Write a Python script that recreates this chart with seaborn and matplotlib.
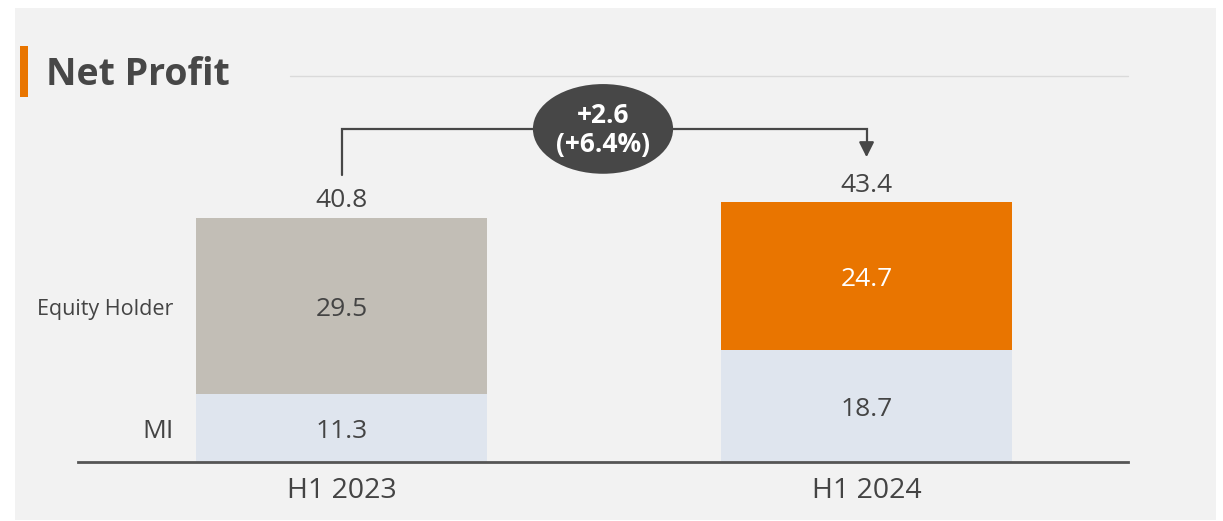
import matplotlib
matplotlib.use("Agg")
import matplotlib.pyplot as plt
import seaborn as sns
import pandas as pd
from matplotlib.patches import Ellipse, Rectangle

# datos del grafico
periods = ["H1 2023", "H1 2024"]
equity = [29.5, 24.7]
mi = [11.3, 18.7]
totals = [40.8, 43.4]
change_abs = "+2.6"
change_pct = "(+6.4%)"
row_labels = ["Equity Holder", "MI"]

GRAY_BAR = "#c2beb6"
ORANGE = "#e97500"
LIGHT = "#dfe5ee"
TEXT = "#444444"
BG = "#f2f2f2"

sns.set_style("white")
plt.rcParams["font.family"] = ["Open Sans", "DejaVu Sans"]

df = pd.DataFrame({"period": periods, "equity": equity, "mi": mi, "total": totals})

fig = plt.figure(figsize=(12.23, 5.21), dpi=100, facecolor="white")
fig.patches.append(Rectangle((15 / 1223, 1 / 521), 1201 / 1223, 512 / 521,
                             transform=fig.transFigure, facecolor=BG,
                             edgecolor="none", zorder=-10))

ax = fig.add_axes([78 / 1223, 59 / 521, 1050 / 1223, 454 / 521])
ax.set_facecolor("none")

# barras apiladas: total primero, MI encima
sns.barplot(data=df, x="period", y="total", hue="period",
            palette=[GRAY_BAR, ORANGE], saturation=1, width=0.554,
            legend=False, linewidth=0, ax=ax)
sns.barplot(data=df, x="period", y="mi", color=LIGHT, saturation=1,
            width=0.554, linewidth=0, ax=ax)

px = 5.98  # pixeles por unidad
ax.set_xlim(-0.502, 1.498)
ax.set_ylim(0, 454 / px)

for s in ["top", "right", "left"]:
    ax.spines[s].set_visible(False)
ax.spines["bottom"].set_color("#555555")
ax.spines["bottom"].set_linewidth(2)
ax.set_yticks([])
ax.set_xlabel("")
ax.set_ylabel("")
ax.tick_params(axis="x", length=0, labelsize=20.5, labelcolor=TEXT, pad=11)

# etiquetas
dy = -0.5  # ajuste vertical del texto
for i in range(len(periods)):
    ax.text(i, mi[i] / 2 + dy, f"{mi[i]:.1f}", ha="center", va="center",
            fontsize=19, color=TEXT)
    ax.text(i, mi[i] + equity[i] / 2 + dy, f"{equity[i]:.1f}", ha="center",
            va="center", fontsize=19, color=TEXT if i == 0 else "white")
    ax.text(i, totals[i] + 3.4 + dy, f"{totals[i]:.1f}", ha="center",
            va="center", fontsize=19, color=TEXT)

ax.text(-0.32, mi[0] + equity[0] / 2 + dy, row_labels[0], ha="right",
        va="center", fontsize=15.5, color=TEXT)
ax.text(-0.32, mi[0] / 2 + dy, row_labels[1], ha="right", va="center",
        fontsize=19, color=TEXT)

# corchete con flecha
top_y = max(totals) + 12.3
ax.plot([0, 0, 1, 1], [totals[0] + 7.2, top_y, top_y, max(totals) + 9.0],
        color="#474747", lw=1.6, solid_joinstyle="miter")
ax.annotate("", xy=(1, max(totals) + 7.1), xytext=(1, max(totals) + 9.4),
            arrowprops=dict(arrowstyle="-|>,head_width=0.45,head_length=0.9",
                            color="#474747", lw=1.6))
ax.add_patch(Ellipse((0.498, top_y), 0.267, 15.0, facecolor="#474747",
                     edgecolor="none", zorder=5, clip_on=False))
ax.text(0.498, top_y + 2.3, change_abs, ha="center", va="center",
        fontsize=19, fontweight="bold", color="white", zorder=6)
ax.text(0.498, top_y - 2.6, change_pct, ha="center", va="center",
        fontsize=19, fontweight="bold", color="white", zorder=6)

# titulo
fig.patches.append(Rectangle((20 / 1223, (521 - 97) / 521), 8 / 1223, 51 / 521,
                             transform=fig.transFigure, facecolor=ORANGE,
                             edgecolor="none"))
fig.text(46 / 1223, (521 - 75) / 521, "Net Profit", fontsize=27,
         fontweight="bold", color="#474747", va="center", ha="left")
fig.lines.append(plt.Line2D([290 / 1223, 1128 / 1223],
                            [(521 - 76) / 521] * 2, transform=fig.transFigure,
                            color="#dadada", lw=1))

fig.savefig("out.png", dpi=100, facecolor="white")
